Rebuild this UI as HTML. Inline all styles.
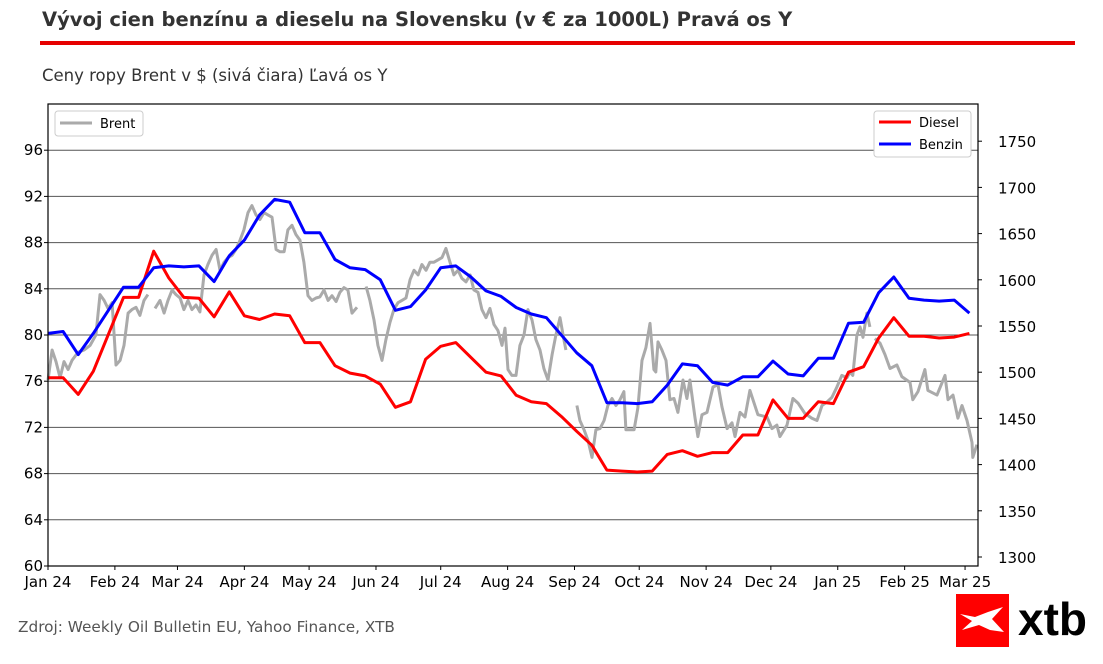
<!DOCTYPE html>
<html><head><meta charset="utf-8"><style>
body{margin:0;background:#fff;width:1103px;height:660px;overflow:hidden;font-family:"DejaVu Sans","Liberation Sans",sans-serif}
svg text{font-family:"DejaVu Sans","Liberation Sans",sans-serif}
</style></head><body>
<svg id="chart" width="1103" height="660" xmlns="http://www.w3.org/2000/svg">
<text x="42" y="26" font-size="19.5" font-weight="bold" fill="#333">Vývoj cien benzínu a dieselu na Slovensku (v € za 1000L) Pravá os Y</text>
<rect x="40" y="41" width="1035" height="4" fill="#e60000"/>
<text x="42" y="81" font-size="16.5" fill="#333">Ceny ropy Brent v $ (sivá čiara) Ľavá os Y</text>
<g id="grid"></g>
<g id="axes"></g>
<g id="series"></g>
<rect x="48" y="104" width="930" height="462" fill="none" stroke="#000" stroke-width="1.2"/>
<g>
<rect x="55" y="111" width="88" height="25" fill="#fff" stroke="#ccc" rx="3"/>
<line x1="60" y1="123" x2="92" y2="123" stroke="#aaa" stroke-width="3"/>
<text x="100" y="128" font-size="13" fill="#000">Brent</text>
</g>
<g>
<rect x="874" y="111" width="97" height="46" fill="#fff" stroke="#ccc" rx="3"/>
<line x1="879" y1="122" x2="911" y2="122" stroke="#f00" stroke-width="3"/>
<text x="919" y="127" font-size="13" fill="#000">Diesel</text>
<line x1="879" y1="144" x2="911" y2="144" stroke="#00f" stroke-width="3"/>
<text x="919" y="149" font-size="13" fill="#000">Benzin</text>
</g>
<text x="18" y="632" font-size="15.3" fill="#555">Zdroj: Weekly Oil Bulletin EU, Yahoo Finance, XTB</text>
<g>
<rect x="956" y="594" width="53" height="53" fill="#f00"/>
<path d="M960 614 L975 617 L988 612 L1003 607 L992 619 L1004 632 L990 630 L979 625 L962 630 L972 621 Z" fill="#fff"/>
<text x="1018" y="635" font-size="46" font-weight="bold" fill="#000" style="font-family:'Liberation Sans',sans-serif">xtb</text>
</g>
</svg>
<script>
const leftTicks=[60,64,68,72,76,80,84,88,92,96];
const rightTicks=[1300,1350,1400,1450,1500,1550,1600,1650,1700,1750];
const monthLabels=["Jan 24","Feb 24","Mar 24","Apr 24","May 24","Jun 24","Jul 24","Aug 24","Sep 24","Oct 24","Nov 24","Dec 24","Jan 25","Feb 25","Mar 25"];
const monthDays=[0,31,60,91,121,152,182,213,244,274,305,335,366,397,425];
const benzin=[1542,1544,1519,1542,1567,1592,1592,1613,1615,1614,1615,1598,1626,1643,1670,1687,1684,1651,1651,1622,1613,1611,1600,1567,1571,1589,1613,1615,1603,1588,1582,1570,1563,1559,1540,1521,1507,1467,1467,1466,1468,1486,1509,1507,1489,1486,1495,1495,1512,1498,1496,1515,1515,1553,1554,1586,1603,1580,1578,1577,1578,1564];
const diesel=[1494,1494,1476,1501,1541,1581,1581,1631,1602,1581,1580,1560,1587,1561,1557,1563,1561,1532,1532,1507,1499,1496,1487,1462,1468,1514,1528,1532,1516,1500,1496,1475,1468,1466,1452,1436,1421,1394,1393,1392,1393,1411,1415,1409,1413,1413,1432,1432,1470,1450,1450,1468,1466,1500,1506,1537,1559,1539,1539,1537,1538,1542];
const brentDays=[0,1.9,3.7,5.6,7.4,9.3,11.1,13.9,16.7,19.5,22.2,24.1,26,27.8,29.7,31.5,33.4,35.2,37.1,38.9,40.8,42.6,44.5,46.3,48,49.6,51.9,53.8,55.6,57.5,59.3,61.2,63,64.9,66.7,68.6,70.4,72.3,74.1,76,77.9,79.7,81.6,83.4,85.3,87.1,89,90.8,92.7,94.5,96.4,98.2,100.1,101.9,103.8,105.7,107.5,109.4,111.2,113.1,114.9,116.8,118.6,120.5,122.3,124.2,126,127.9,129.8,131.6,133.5,135.3,137.2,139,140.9,143.2,145,147.4,149.2,151.1,152.9,154.8,156.6,158.5,160.3,162.2,164,165.9,167.8,169.6,171.5,173.3,175.2,177,178.9,180.7,182.6,184.4,186.3,188.1,190,191.8,193.7,195.6,197.4,199.3,201.1,203,204.8,206.7,208.5,210.4,211.8,213.2,215,216.9,218.7,220.6,222.4,224.3,226.1,228,229.8,231.7,233.6,235.4,237.3,239.1,240,242,245.1,246.5,248.4,250.2,252.1,253.9,255.8,257.7,259.5,261.4,263.2,265.1,266.9,267.8,269.7,271.6,273.4,275.3,277.1,279,280.8,281.7,282.7,284.5,286.4,288.2,290.1,291.9,294.3,296.1,297.5,299.8,301.2,303.1,305.4,308.2,310.5,312.3,314.7,317,318.4,320.7,323,325.3,329,333.2,335.5,337.8,339.2,342.5,345.2,347.6,350.8,354,356.4,358.7,361,363.3,365.6,367.9,370.3,371.7,373,374.9,376.3,377.7,379.5,380.9,382,383.2,385.6,387.9,390.2,393.4,395.7,399.5,400.8,403.2,406.4,407.8,412,415.7,417.1,419.4,421.7,423.6,425.9,428.2,428.6,430.5];
const brent=[76.1,78.7,77.7,76.3,77.7,77.0,77.8,78.5,78.7,79.1,80.0,83.5,83.0,82.3,82.8,77.4,77.8,79.1,81.9,82.2,82.4,81.7,83.0,83.5,null,82.3,83.0,81.9,83.0,83.9,83.5,83.2,82.2,83.0,82.2,82.6,82.0,85.2,86.1,86.9,87.4,85.6,86.3,86.7,86.9,87.4,88.2,89.1,90.6,91.2,90.4,90.0,90.6,90.4,90.2,87.4,87.2,87.2,89.1,89.5,88.7,88.2,86.3,83.4,83.0,83.2,83.3,83.9,83.0,83.4,82.9,83.7,84.1,83.9,81.9,82.4,null,84.2,83.0,81.3,79.1,77.8,79.6,81.1,82.2,82.8,83.0,83.2,84.8,85.6,85.2,86.1,85.6,86.3,86.3,86.5,86.7,87.5,86.3,85.2,85.6,84.9,84.6,85.2,83.9,83.7,82.2,81.5,82.3,80.9,80.4,79.1,80.6,77.0,76.5,76.5,79.1,80.0,82.2,81.3,79.6,78.7,77.1,76.1,78.3,80.0,81.5,79.6,78.7,null,73.9,72.6,71.8,70.9,69.4,71.8,71.9,72.6,73.9,74.5,73.9,74.4,75.1,71.8,71.8,71.8,73.7,77.8,78.9,81.0,77.0,76.8,79.4,78.7,77.8,74.4,74.5,73.3,76.1,74.5,76.1,72.9,71.2,73.1,73.3,75.5,75.7,73.8,71.9,72.4,71.2,73.3,72.9,75.2,73.1,72.9,71.9,72.2,71.2,72.2,74.5,74.1,73.2,72.8,72.6,73.9,74.2,74.6,75.5,76.5,76.3,76.8,76.5,80.0,80.7,79.8,81.9,80.7,null,79.7,79.3,78.3,77.1,77.4,76.4,75.9,74.4,75.1,77.0,75.2,74.8,76.5,74.4,74.8,72.8,73.9,72.6,70.7,69.4,70.5];

const X0=48,X1=978,Y0=104,Y1=566,D0=0,D1=431;
function xs(d){return X0+(d-D0)/(D1-D0)*(X1-X0);}
function yl(v){return Y1-(v-60)/40*(Y1-Y0);}
function yr(v){return 557-(v-1300)*46.2/50;}
const NS="http://www.w3.org/2000/svg";
function mk(tag,attrs,parent){const e=document.createElementNS(NS,tag);for(const k in attrs)e.setAttribute(k,attrs[k]);parent.appendChild(e);return e;}
const grid=document.getElementById('grid'),axes=document.getElementById('axes'),ser=document.getElementById('series');
leftTicks.forEach(v=>{
  const y=yl(v);
  const g=mk('line',{x1:X0,x2:X1,y1:y,y2:y,stroke:'#555','stroke-width':1},grid);
  
  
  mk('line',{x1:X0-4,x2:X0,y1:y,y2:y,stroke:'#000'},axes);
  const t=mk('text',{x:X0-5,y:y+5,'font-size':15,'text-anchor':'end',fill:'#000'},axes);
  t.textContent=v;
  
  
});
rightTicks.forEach(v=>{
  const y=yr(v);
  mk('line',{x1:X1,x2:X1+4,y1:y,y2:y,stroke:'#000'},axes);
  const t=mk('text',{x:X1+20,y:y+6,'font-size':15,fill:'#000'},axes);
  t.textContent=v;
  
  
});
monthLabels.forEach((m,i)=>{
  const x=xs(monthDays[i]);
  mk('line',{x1:x,x2:x,y1:Y1,y2:Y1+4,stroke:'#000'},axes);
  const t=mk('text',{x:x,y:Y1+21,'font-size':15,'text-anchor':'middle',fill:'#000'},axes);
  t.textContent=m;
  
  
});
let segs=[],cur=[];
brent.forEach((v,i)=>{if(v===null){if(cur.length)segs.push(cur);cur=[];}else cur.push(xs(brentDays[i]).toFixed(1)+','+yl(v).toFixed(1));});
if(cur.length)segs.push(cur);
segs.forEach(s=>{
  const p=mk('polyline',{points:s.join(' '),fill:'none',stroke:'#aaa','stroke-width':3,'stroke-linejoin':'round'},ser);
  
  
});
function weekly(arr,color,name){
  const pts=arr.map((v,i)=>xs(i*7).toFixed(1)+','+yr(v).toFixed(1)).join(' ');
  const p=mk('polyline',{points:pts,fill:'none',stroke:color,'stroke-width':3,'stroke-linejoin':'round'},ser);
  
  
}
weekly(diesel,'#f00','diesel-line');
weekly(benzin,'#00f','benzin-line');
</script>
</body></html>
